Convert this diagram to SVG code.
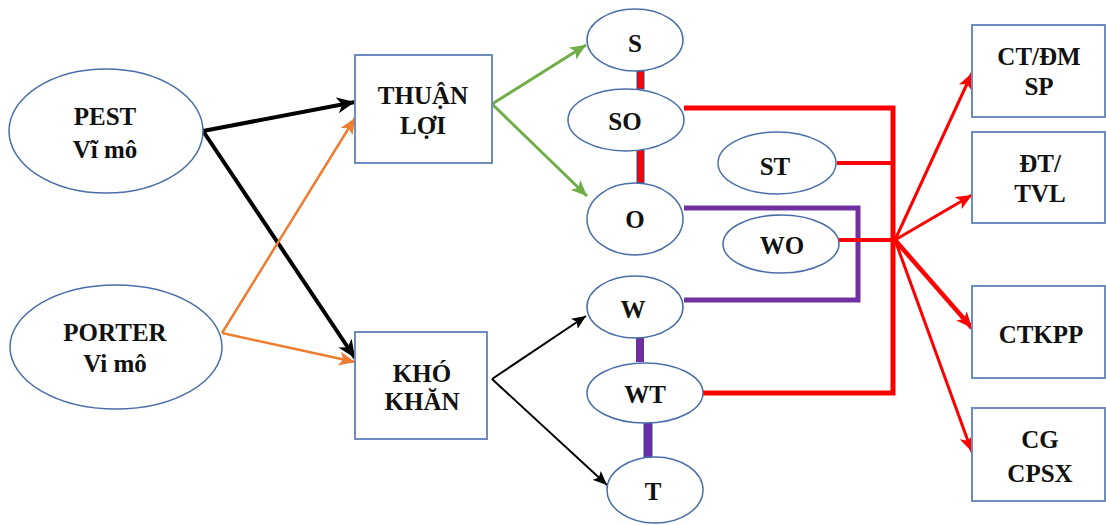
<svg xmlns="http://www.w3.org/2000/svg" width="1106" height="525" viewBox="0 0 1106 525">
<defs>
<style>
.el{fill:#fff;stroke:#4a6ea8;stroke-width:1.5}
.bx{fill:#fff;stroke:#6f8cc0;stroke-width:2}
.t{font-weight:bold;font-size:25px;fill:#111;text-anchor:middle}
.ln{fill:none}
</style>
<marker id="ab" markerUnits="userSpaceOnUse" markerWidth="20" markerHeight="16" refX="18" refY="8" orient="auto"><path d="M0,0 L18,8 L0,16 L5,8 Z" fill="#000"/></marker>
<marker id="ao" markerUnits="userSpaceOnUse" markerWidth="18" markerHeight="14" refX="16" refY="7" orient="auto"><path d="M0,0 L16,7 L0,14 L4,7 Z" fill="#ed7d31"/></marker>
<marker id="ag" markerUnits="userSpaceOnUse" markerWidth="18" markerHeight="14" refX="16" refY="7" orient="auto"><path d="M0,0 L16,7 L0,14 L4,7 Z" fill="#70ad47"/></marker>
<marker id="ak" markerUnits="userSpaceOnUse" markerWidth="16" markerHeight="12" refX="14" refY="6" orient="auto"><path d="M0,0 L14,6 L0,12 L3,6 Z" fill="#000"/></marker>
<marker id="ar" markerUnits="userSpaceOnUse" markerWidth="18" markerHeight="14" refX="16" refY="7" orient="auto"><path d="M0,0 L16,7 L0,14 L4,7 Z" fill="#f00"/></marker>
</defs>
<rect width="1106" height="525" fill="#fff"/>
<g id="connectors">
<line x1="203" y1="131" x2="355" y2="102" stroke="#000" stroke-width="4" marker-end="url(#ab)"/>
<line x1="203" y1="131" x2="355" y2="358" stroke="#000" stroke-width="4" marker-end="url(#ab)"/>
<line x1="222" y1="333" x2="355" y2="118" stroke="#ed7d31" stroke-width="2.5" marker-end="url(#ao)"/>
<line x1="222" y1="333" x2="355" y2="362" stroke="#ed7d31" stroke-width="2.5" marker-end="url(#ao)"/>
<line x1="492" y1="104" x2="586" y2="45" stroke="#70ad47" stroke-width="3" marker-end="url(#ag)"/>
<line x1="492" y1="104" x2="587" y2="196" stroke="#70ad47" stroke-width="3" marker-end="url(#ag)"/>
<line x1="492" y1="379" x2="586" y2="316" stroke="#000" stroke-width="2" marker-end="url(#ak)"/>
<line x1="492" y1="379" x2="607" y2="485" stroke="#000" stroke-width="2" marker-end="url(#ak)"/>
<rect x="637" y="71" width="7" height="18" fill="#f00" stroke="#2f4f8f" stroke-width="1"/>
<rect x="637" y="150" width="7" height="33" fill="#f00" stroke="#2f4f8f" stroke-width="1"/>
<rect x="636" y="337" width="8" height="25" fill="#7030a0"/>
<rect x="644" y="423" width="8" height="34" fill="#6a2fa8" stroke="#2f4f8f" stroke-width="1"/>
<polyline class="ln" points="684,208 858,208 858,300 684,300" stroke="#7030a0" stroke-width="5"/>
<polyline class="ln" points="684,108 893,108 893,393 703,393" stroke="#f00" stroke-width="5"/>
<line x1="837" y1="163" x2="893" y2="163" stroke="#f00" stroke-width="4"/>
<line x1="839" y1="240" x2="895" y2="240" stroke="#f00" stroke-width="4"/>
<line x1="895" y1="240" x2="972" y2="73" stroke="#f00" stroke-width="3" marker-end="url(#ar)"/>
<line x1="895" y1="240" x2="972" y2="195" stroke="#f00" stroke-width="3" marker-end="url(#ar)"/>
<line x1="895" y1="240" x2="972" y2="328" stroke="#f00" stroke-width="4.5" marker-end="url(#ar)"/>
<line x1="895" y1="240" x2="972" y2="452" stroke="#f00" stroke-width="3" marker-end="url(#ar)"/>
</g>
<g font-family="'Liberation Serif', 'DejaVu Serif', serif">
<g id="pest"><ellipse class="el" cx="106" cy="131" rx="97" ry="62"/><text class="t" x="105" y="125">PEST</text><text class="t" x="105" y="158">Vĩ mô</text></g>
<g id="porter"><ellipse class="el" cx="116" cy="347" rx="106" ry="62"/><text class="t" x="115" y="341">PORTER</text><text class="t" x="115" y="372">Vi mô</text></g>
<g id="thuanloi"><rect class="bx" x="355" y="55" width="137" height="108"/><text class="t" x="423" y="104">THUẬN</text><text class="t" x="423" y="134">LỢI</text></g>
<g id="khokhan"><rect class="bx" x="355" y="332" width="132" height="107"/><text class="t" x="422" y="382">KHÓ</text><text class="t" x="422" y="410">KHĂN</text></g>
<g id="s"><ellipse class="el" cx="635" cy="40" rx="48" ry="31"/><text class="t" x="635" y="52">S</text></g>
<g id="so"><ellipse class="el" cx="626" cy="120" rx="58" ry="31"/><text class="t" x="625" y="130">SO</text></g>
<g id="o"><ellipse class="el" cx="635" cy="219" rx="48" ry="36"/><text class="t" x="635" y="228">O</text></g>
<g id="st"><ellipse class="el" cx="777" cy="163" rx="59" ry="31"/><text class="t" x="775" y="175">ST</text></g>
<g id="wo"><ellipse class="el" cx="781" cy="244" rx="58" ry="29"/><text class="t" x="782" y="254">WO</text></g>
<g id="w"><ellipse class="el" cx="635" cy="307" rx="48" ry="31"/><text class="t" x="633" y="318">W</text></g>
<g id="wt"><ellipse class="el" cx="645" cy="393" rx="58" ry="30"/><text class="t" x="645" y="403">WT</text></g>
<g id="t"><ellipse class="el" cx="655" cy="490" rx="48" ry="33"/><text class="t" x="653" y="500">T</text></g>
<g id="ctdm"><rect class="bx" x="972" y="25" width="133" height="92"/><text class="t" x="1039" y="65">CT/ĐM</text><text class="t" x="1039" y="95">SP</text></g>
<g id="dttvl"><rect class="bx" x="972" y="132" width="133" height="91"/><text class="t" x="1040" y="172">ĐT/</text><text class="t" x="1040" y="202">TVL</text></g>
<g id="ctkpp"><rect class="bx" x="972" y="286" width="133" height="92"/><text class="t" x="1041" y="343">CTKPP</text></g>
<g id="cgcpsx"><rect class="bx" x="972" y="408" width="133" height="93"/><text class="t" x="1040" y="448">CG</text><text class="t" x="1040" y="482">CPSX</text></g>
</g>
</svg>
